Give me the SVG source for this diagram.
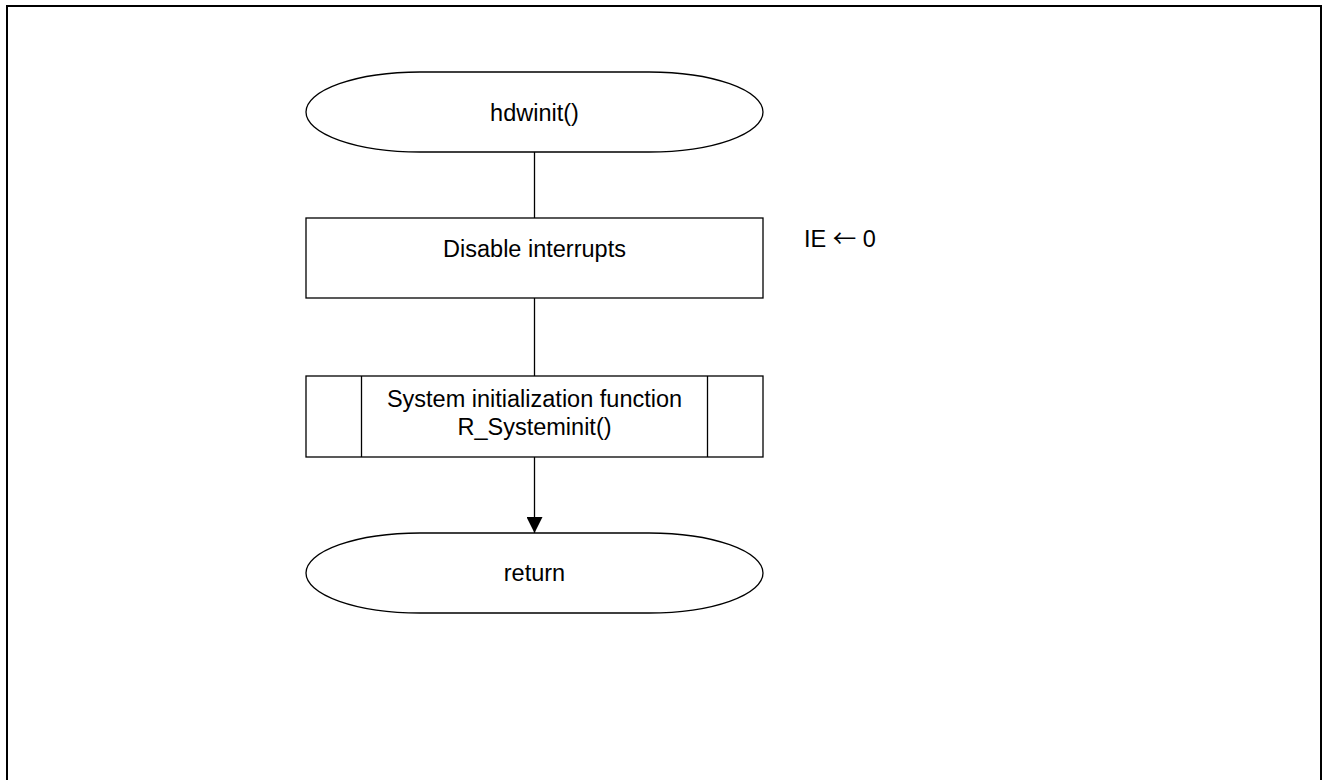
<svg xmlns="http://www.w3.org/2000/svg" width="1322" height="780" viewBox="0 0 1322 780">
<style>
.s{fill:#fff;stroke:#000;stroke-width:1.3}
.t{font-family:"Liberation Sans",Arial,sans-serif;font-size:23.5px;fill:#000;text-anchor:middle}
.c{stroke:#000;stroke-width:1.3;fill:none}
</style>
<defs>
<marker id="ah" markerWidth="16" markerHeight="16" refX="16" refY="8" orient="auto" markerUnits="userSpaceOnUse">
<path d="M0,0 L16,8 L0,16 Z" fill="#000"/>
</marker>
</defs>
<rect width="1322" height="780" fill="#fff"/>
<rect x="7" y="6" width="1314" height="790" fill="none" stroke="#000" stroke-width="2"/>
<g id="connectors">
<line class="c" x1="534.5" y1="152" x2="534.5" y2="218"/>
<line class="c" x1="534.5" y1="298" x2="534.5" y2="376"/>
<line class="c" x1="534.5" y1="457" x2="534.5" y2="533" marker-end="url(#ah)"/>
</g>
<g id="start">
<rect class="s" x="306" y="72" width="457" height="80" rx="114" ry="40"/>
<text class="t" x="534.5" y="121">hdwinit()</text>
</g>
<g id="disable">
<rect class="s" x="306" y="218" width="457" height="80"/>
<text class="t" x="534.5" y="257">Disable interrupts</text>
</g>
<g id="note">
<text font-family="Liberation Sans,Arial,sans-serif" font-size="23.5" x="804" y="247">IE <tspan font-family="Noto Sans CJK JP,DejaVu Sans,sans-serif">←</tspan> 0</text>
</g>
<g id="sysinit">
<rect class="s" x="306" y="376" width="457" height="81"/>
<line class="c" x1="361.5" y1="376" x2="361.5" y2="457"/>
<line class="c" x1="707.5" y1="376" x2="707.5" y2="457"/>
<text class="t" x="534.5" y="407">System initialization function</text>
<text class="t" x="534.5" y="435">R_Systeminit()</text>
</g>
<g id="return">
<rect class="s" x="306" y="533" width="457" height="80" rx="114" ry="40"/>
<text class="t" x="534.5" y="581">return</text>
</g>
</svg>
